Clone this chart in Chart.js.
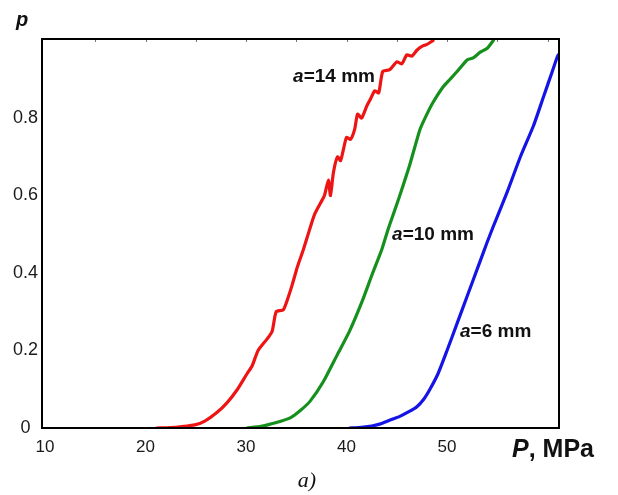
<!DOCTYPE html>
<html>
<head>
<meta charset="utf-8">
<script src="https://cdn.jsdelivr.net/npm/chart.js@4/dist/chart.umd.min.js"></script>
<style>
html,body{margin:0;padding:0;background:#fff;}
#wrap{position:relative;width:618px;height:495px;}
</style>
</head>
<body>
<div id="wrap"><canvas id="c" width="618" height="495"></canvas></div>
<script>
// ---- data ----
const xTicks = [10, 20, 30, 40, 50];
const yTicks = [0, 0.2, 0.4, 0.6, 0.8];
const topMinorTicks = [15, 20, 25, 30, 35, 40, 45, 50, 55, 60];

const seriesNames = ["a=14 mm", "a=10 mm", "a=6 mm"];

const xRed = [21.1, 23.0, 24.9, 25.9, 27.1, 28.1, 29.1, 30.1, 30.6, 31.2, 32.1, 32.6, 33.0, 33.7, 34.1, 34.6, 35.1, 35.7, 36.3, 36.8, 37.4, 37.8, 38.2, 38.4, 38.7, 39.1, 39.4, 39.7, 40.0, 40.4, 40.8, 41.1, 41.5, 42.0, 42.4, 42.8, 43.2, 43.6, 44.3, 45.0, 45.5, 46.0, 46.5, 47.0, 47.5, 48.0, 48.6];
const pRed = [0, 0.002, 0.008, 0.018, 0.04, 0.065, 0.098, 0.14, 0.16, 0.20, 0.23, 0.25, 0.30, 0.305, 0.33, 0.37, 0.415, 0.46, 0.51, 0.55, 0.58, 0.60, 0.64, 0.60, 0.66, 0.70, 0.69, 0.72, 0.75, 0.745, 0.77, 0.81, 0.80, 0.83, 0.85, 0.87, 0.865, 0.92, 0.925, 0.945, 0.94, 0.963, 0.96, 0.975, 0.985, 0.99, 1.0];

const xGreen = [30.1, 31.5, 32.4, 33.4, 34.4, 35.4, 36.4, 37.7, 39.1, 40.3, 41.6, 42.6, 43.5, 44.1, 44.7, 45.3, 46.3, 47.3, 48.0, 48.6, 49.6, 50.3, 51.0, 52.0, 52.6, 53.3, 54.0, 54.6];
const pGreen = [0, 0.004, 0.01, 0.017, 0.026, 0.045, 0.07, 0.12, 0.19, 0.25, 0.33, 0.40, 0.46, 0.51, 0.555, 0.60, 0.68, 0.77, 0.81, 0.84, 0.88, 0.90, 0.92, 0.95, 0.955, 0.97, 0.98, 1.0];

const xBlue = [40.3, 41.5, 42.5, 43.3, 44.3, 45.3, 46.2, 47.0, 47.7, 48.3, 49.1, 50.0, 51.0, 52.0, 53.0, 54.0, 54.6, 55.3, 56.0, 57.3, 58.6, 59.6, 60.4, 61.0, 61.14];
const pBlue = [0, 0.002, 0.005, 0.01, 0.02, 0.03, 0.042, 0.055, 0.075, 0.10, 0.14, 0.20, 0.27, 0.34, 0.41, 0.48, 0.52, 0.565, 0.61, 0.70, 0.78, 0.855, 0.915, 0.96, 0.965];

// label anchor (data coords) for each curve annotation
const labelX = [34.68, 44.53, 51.29];
const labelP = [0.906, 0.498, 0.248];

const colors = ["#ee1414", "#16901c", "#1414e6"];

function pts(xs, ys){ return xs.map((x,i)=>({x:x, y:ys[i]})); }

const framePlugin = {
  id: 'frame',
  afterDatasetsDraw(chart){
    const {ctx, chartArea:a, scales} = chart;
    ctx.save();
    // top minor ticks
    ctx.strokeStyle = '#777';
    ctx.lineWidth = 1;
    topMinorTicks.forEach(v=>{
      const x = Math.round(scales.x.getPixelForValue(v)) + 0.5;
      ctx.beginPath(); ctx.moveTo(x, a.top); ctx.lineTo(x, a.top + 3); ctx.stroke();
    });
    // frame
    ctx.strokeStyle = '#000';
    ctx.lineWidth = 2;
    ctx.strokeRect(a.left, a.top, a.right - a.left, a.bottom - a.top);
    // curve annotations
    ctx.fillStyle = '#111';
    ctx.textBaseline = 'middle';
    ctx.textAlign = 'left';
    seriesNames.forEach((name, i)=>{
      let x = scales.x.getPixelForValue(labelX[i]);
      const y = scales.y.getPixelForValue(labelP[i]);
      ctx.font = 'italic bold 19px "Liberation Sans", Arial, sans-serif';
      ctx.fillText('a', x, y);
      x += ctx.measureText('a').width;
      ctx.font = 'bold 19px "Liberation Sans", Arial, sans-serif';
      ctx.fillText(name.slice(1), x, y);
    });
    // axis titles
    ctx.font = 'italic bold 20px "Liberation Sans", Arial, sans-serif';
    ctx.fillText('p', 16, 20);
    let tx = 512;
    ctx.font = 'italic bold 25px "Liberation Sans", Arial, sans-serif';
    ctx.fillText('P', tx, 450);
    tx += ctx.measureText('P').width;
    ctx.font = 'bold 25px "Liberation Sans", Arial, sans-serif';
    ctx.fillText(', MPa', tx, 450);
    // panel caption
    ctx.font = 'italic 22px "Liberation Serif", "Times New Roman", serif';
    ctx.textAlign = 'center';
    ctx.fillText('a)', 307, 481);
    ctx.restore();
  }
};

new Chart(document.getElementById('c'), {
  type: 'line',
  data: {
    datasets: [
      {label: seriesNames[0], data: pts(xRed, pRed), borderColor: colors[0]},
      {label: seriesNames[1], data: pts(xGreen, pGreen), borderColor: colors[1]},
      {label: seriesNames[2], data: pts(xBlue, pBlue), borderColor: colors[2]}
    ].map(d=>Object.assign(d, {borderWidth: 3.2, pointRadius: 0, tension: 0.2, fill: false, borderJoinStyle:'round', borderCapStyle:'round'}))
  },
  options: {
    responsive: false,
    animation: false,
    devicePixelRatio: 1,
    layout: {padding: {left: 0, top: 39, right: 59, bottom: 0}},
    plugins: {legend: {display: false}, tooltip: {enabled: false}},
    scales: {
      x: {
        type: 'linear', min: 9.7, max: 61.14,
        grid: {display: false, drawTicks: false},
        border: {display: false},
        afterBuildTicks: s => { s.ticks = xTicks.map(v=>({value:v})); },
        afterFit: s => { s.height = 67; },
        ticks: {padding: 9, color: '#1a1a1a', font: {family: '"Liberation Sans", Arial, sans-serif', size: 17}, maxRotation: 0,
          callback: v => String(v)}
      },
      y: {
        type: 'linear', min: 0, max: 1.004,
        grid: {display: false, drawTicks: false},
        border: {display: false},
        afterBuildTicks: s => { s.ticks = yTicks.map(v=>({value:v})); },
        afterFit: s => { s.width = 42; },
        ticks: {padding: 4, crossAlign: 'center', color: '#1a1a1a', font: {family: '"Liberation Sans", Arial, sans-serif', size: 18},
          callback: v => String(v)}
      }
    }
  },
  plugins: [framePlugin]
});
</script>
</body>
</html>
